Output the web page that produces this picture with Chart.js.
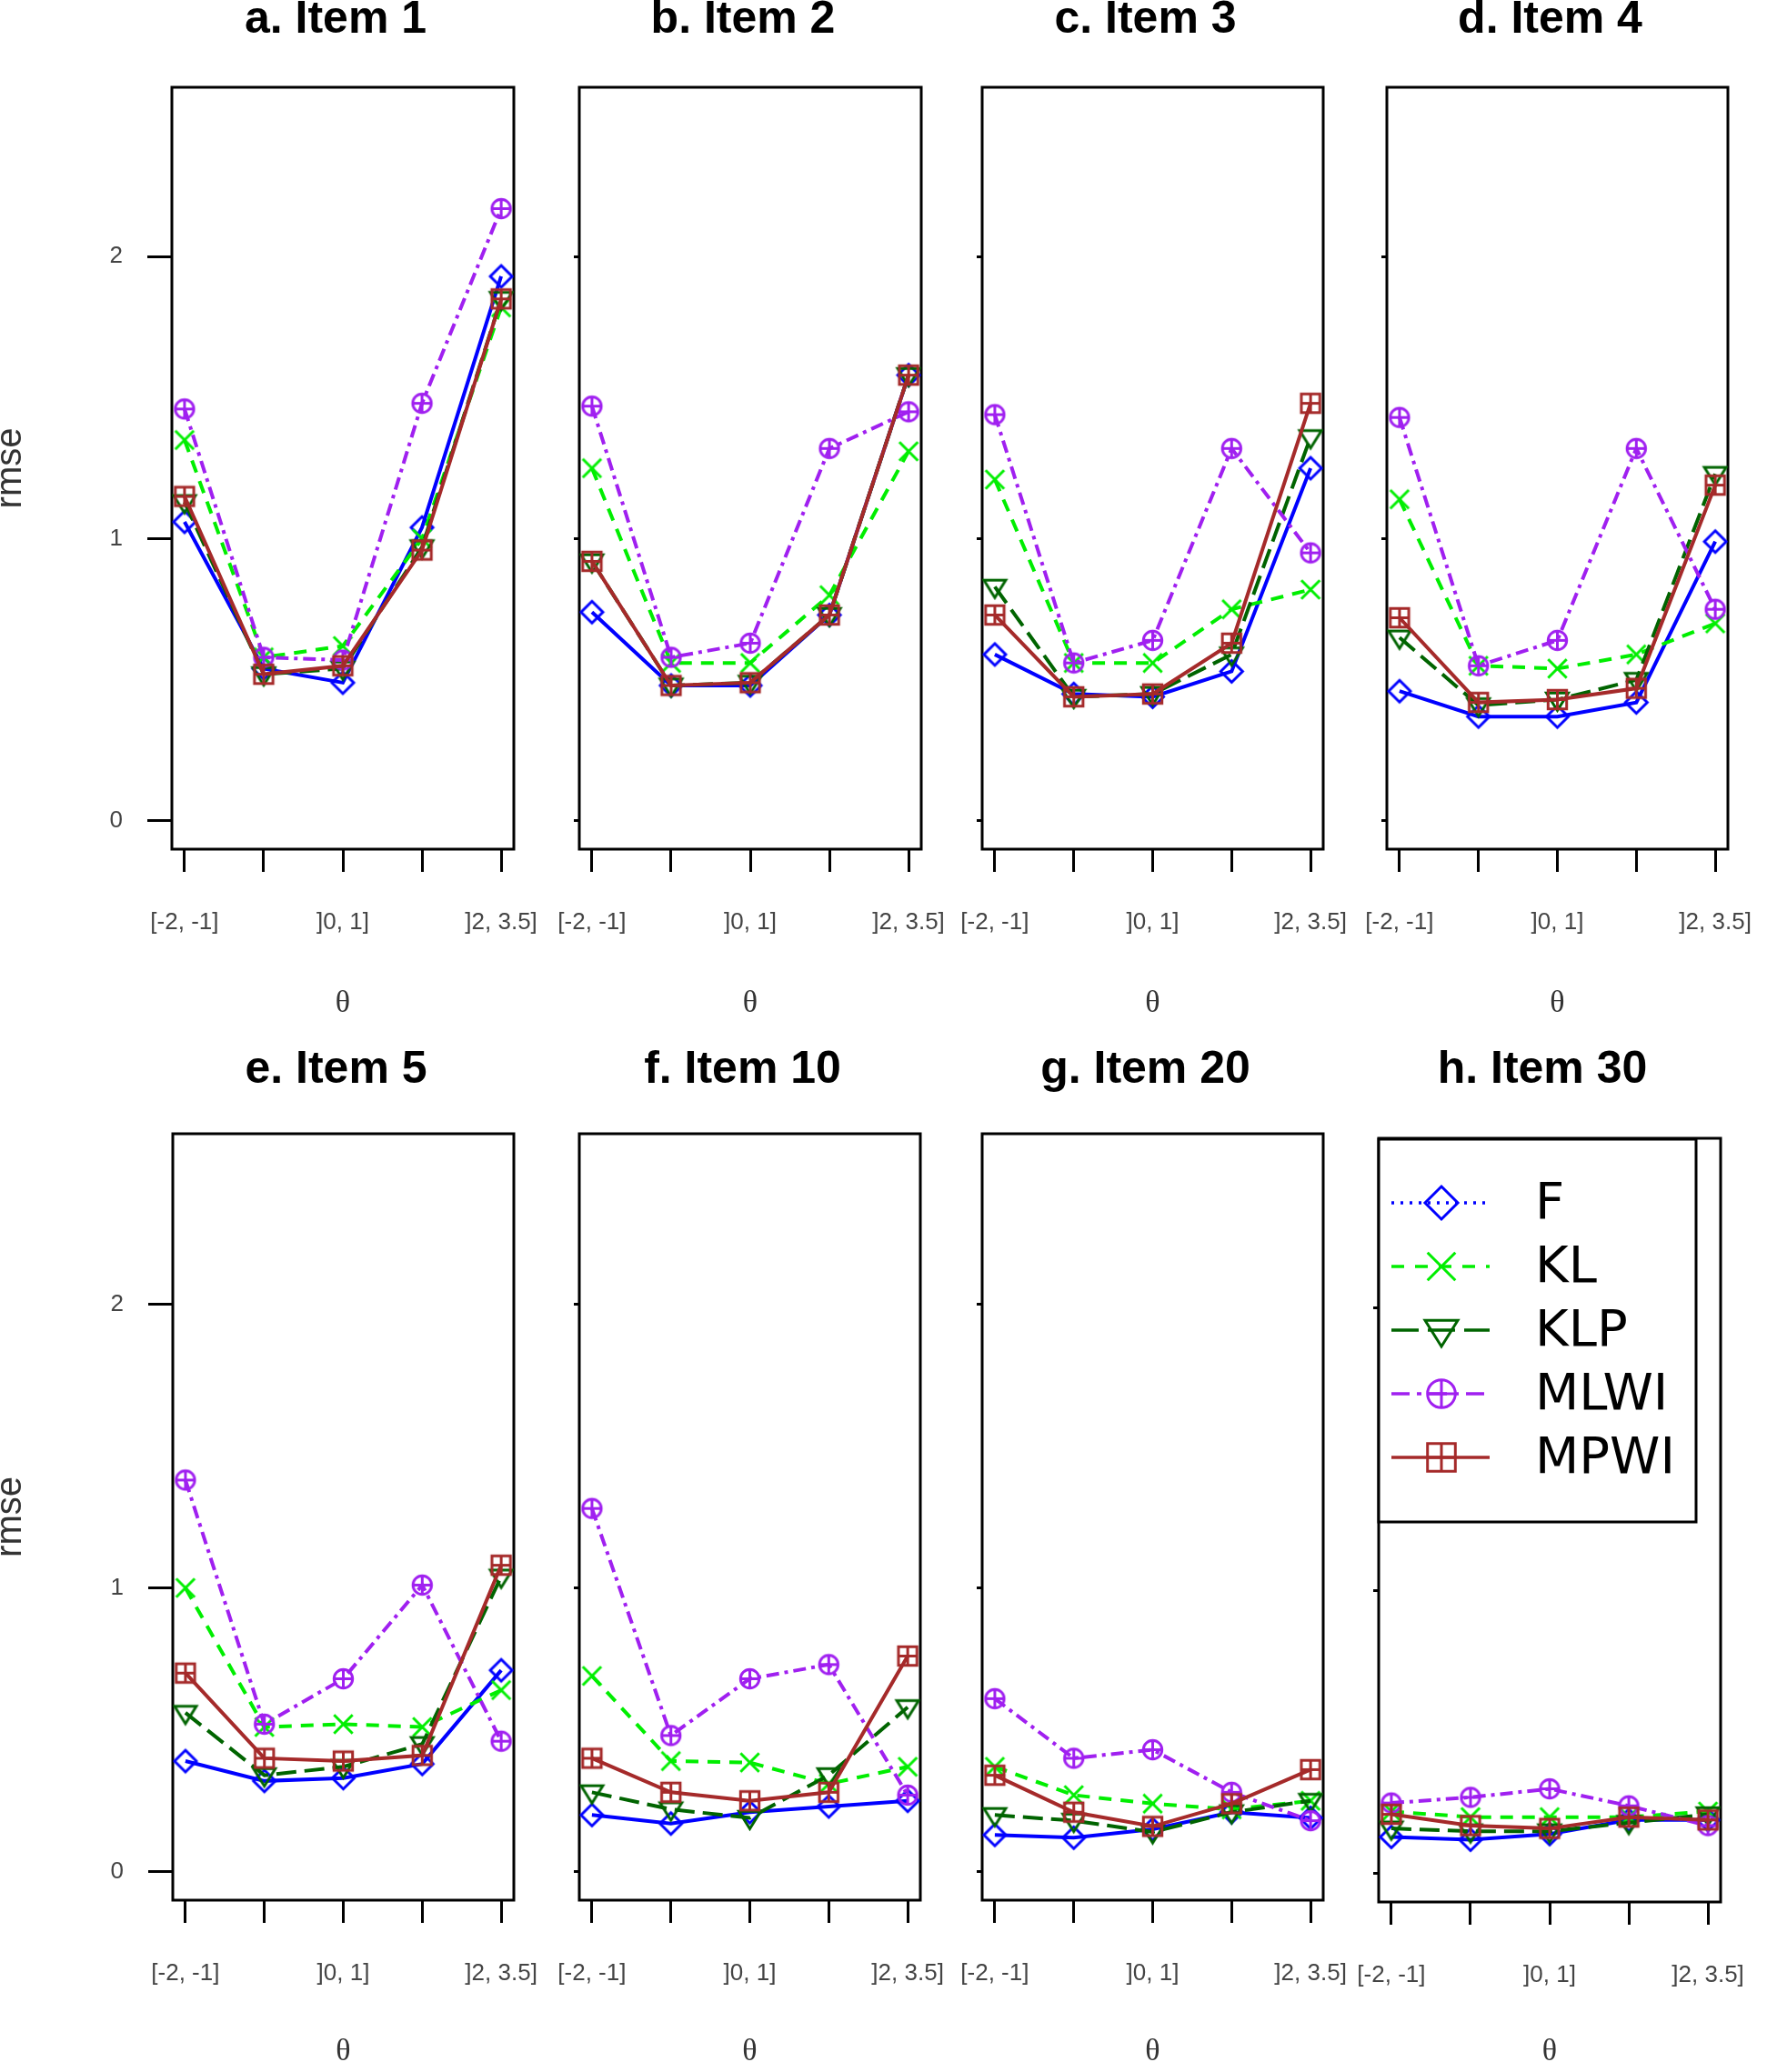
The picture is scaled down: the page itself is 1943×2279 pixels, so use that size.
<!DOCTYPE html>
<html>
<head>
<meta charset="utf-8">
<script src="https://cdn.jsdelivr.net/npm/chart.js@4/dist/chart.umd.min.js"></script>
<style>
  html, body { margin: 0; padding: 0; background: #fff; overflow: hidden; }
  body { width: 1943px; height: 2279px; position: relative; }
  canvas { position: absolute; }
</style>
</head>
<body>
<script>
// theta bins on the x axis (only every other one is labelled in the figure)
const thetaBins = ['[-2, -1]', ']-1, 0]', ']0, 1]', ']1, 2]', ']2, 3.5]'];
const panelTitles = ['a. Item 1', 'b. Item 2', 'c. Item 3', 'd. Item 4',
                     'e. Item 5', 'f. Item 10', 'g. Item 20', 'h. Item 30'];
const methods = ['F', 'KL', 'KLP', 'MLWI', 'MPWI'];
const yTicks = [0, 1, 2];

// rmse per panel (rows: items 1,2,3,4,5,10,20,30), one value per theta bin
const rmseF = [
  [1.06, 0.54, 0.49, 1.04, 1.93],
  [0.74, 0.48, 0.48, 0.73, 1.58],
  [0.59, 0.45, 0.44, 0.53, 1.25],
  [0.46, 0.37, 0.37, 0.42, 0.99],
  [0.39, 0.32, 0.33, 0.38, 0.71],
  [0.20, 0.17, 0.21, 0.23, 0.25],
  [0.13, 0.12, 0.15, 0.21, 0.19],
  [0.13, 0.12, 0.14, 0.19, 0.19]
];
const rmseKL = [
  [1.35, 0.58, 0.62, 1.00, 1.82],
  [1.25, 0.56, 0.56, 0.80, 1.31],
  [1.21, 0.56, 0.56, 0.75, 0.82],
  [1.14, 0.55, 0.54, 0.59, 0.70],
  [1.00, 0.51, 0.52, 0.51, 0.64],
  [0.69, 0.39, 0.385, 0.31, 0.37],
  [0.37, 0.27, 0.24, 0.22, 0.25],
  [0.22, 0.20, 0.20, 0.20, 0.22]
];
const rmseKLP = [
  [1.13, 0.52, 0.54, 0.97, 1.85],
  [0.92, 0.48, 0.49, 0.73, 1.58],
  [0.83, 0.44, 0.45, 0.59, 1.36],
  [0.65, 0.41, 0.43, 0.50, 1.23],
  [0.56, 0.34, 0.37, 0.45, 1.04],
  [0.28, 0.22, 0.19, 0.34, 0.58],
  [0.20, 0.18, 0.14, 0.21, 0.25],
  [0.16, 0.15, 0.15, 0.18, 0.21]
];
const rmseMLWI = [
  [1.46, 0.58, 0.57, 1.48, 2.17],
  [1.47, 0.58, 0.63, 1.32, 1.45],
  [1.44, 0.56, 0.64, 1.32, 0.95],
  [1.43, 0.55, 0.64, 1.32, 0.75],
  [1.38, 0.52, 0.68, 1.01, 0.46],
  [1.28, 0.48, 0.68, 0.73, 0.27],
  [0.61, 0.40, 0.43, 0.28, 0.18],
  [0.25, 0.27, 0.30, 0.24, 0.17]
];
const rmseMPWI = [
  [1.15, 0.52, 0.55, 0.96, 1.85],
  [0.92, 0.48, 0.49, 0.73, 1.58],
  [0.73, 0.44, 0.45, 0.63, 1.48],
  [0.72, 0.42, 0.43, 0.47, 1.19],
  [0.70, 0.40, 0.39, 0.41, 1.08],
  [0.40, 0.28, 0.25, 0.28, 0.76],
  [0.34, 0.21, 0.16, 0.24, 0.36],
  [0.21, 0.17, 0.16, 0.20, 0.19]
];
const series = { F: rmseF, KL: rmseKL, KLP: rmseKLP, MLWI: rmseMLWI, MPWI: rmseMPWI };

// page layout: plot box [left, top, right, bottom] of each panel
const boxes = [
  [189, 96, 565, 934], [637, 96, 1013, 934], [1080, 96, 1455, 934], [1525, 96, 1900, 934],
  [190, 1247, 565, 2090], [637, 1247, 1012, 2090], [1080, 1247, 1455, 2090], [1516, 1252, 1892, 2092]
];
const rowTop = [0, 1140];
const rowBottom = [1140, 2279];
const titleY = [22, 1177];
const thetaPad = [19, 5];

const styles = {
  F:    { color: '#0000ff', dash: [],            legendDash: [3, 7],         marker: 'diamond' },
  KL:   { color: '#00ee00', dash: [14, 10],      legendDash: [14, 12],       marker: 'x' },
  KLP:  { color: '#006400', dash: [22, 9],       legendDash: [30, 10],       marker: 'tri' },
  MLWI: { color: '#a020f0', dash: [14, 6, 4, 6], legendDash: [20, 8, 5, 8],  marker: 'circplus' },
  MPWI: { color: '#a52a2a', dash: [],            legendDash: [],             marker: 'sqplus' }
};

function drawMarker(ctx, kind, x, y, r, color, lw) {
  ctx.save();
  ctx.strokeStyle = color;
  ctx.lineWidth = lw;
  ctx.setLineDash([]);
  ctx.beginPath();
  if (kind === 'diamond') {
    ctx.moveTo(x, y - r); ctx.lineTo(x + r, y); ctx.lineTo(x, y + r); ctx.lineTo(x - r, y); ctx.closePath();
  } else if (kind === 'x') {
    const d = r * 0.85;
    ctx.moveTo(x - d, y - d); ctx.lineTo(x + d, y + d);
    ctx.moveTo(x + d, y - d); ctx.lineTo(x - d, y + d);
  } else if (kind === 'tri') {
    ctx.moveTo(x - r, y - r * 0.6); ctx.lineTo(x + r, y - r * 0.6); ctx.lineTo(x, y + r); ctx.closePath();
  } else if (kind === 'circplus') {
    const c = r * 0.85;
    ctx.arc(x, y, c, 0, Math.PI * 2);
    ctx.moveTo(x - c, y); ctx.lineTo(x + c, y);
    ctx.moveTo(x, y - c); ctx.lineTo(x, y + c);
  } else if (kind === 'sqplus') {
    const s = r * 0.85;
    ctx.rect(x - s, y - s, 2 * s, 2 * s);
    ctx.moveTo(x - s, y); ctx.lineTo(x + s, y);
    ctx.moveTo(x, y - s); ctx.lineTo(x, y + s);
  }
  ctx.stroke();
  ctx.restore();
}

function markerCanvas(kind, color, r, lw) {
  const c = document.createElement('canvas');
  const size = Math.ceil(2 * r + lw + 4);
  c.width = size; c.height = size;
  drawMarker(c.getContext('2d'), kind, size / 2, size / 2, r, color, lw);
  return c;
}

const pointImages = {};
methods.forEach(m => { pointImages[m] = markerCanvas(styles[m].marker, styles[m].color, 12, 3); });

const boxFrame = {
  id: 'boxFrame',
  beforeDatasetsDraw(chart) {
    const a = chart.chartArea, ctx = chart.ctx;
    ctx.save();
    ctx.strokeStyle = '#000';
    ctx.lineWidth = 3;
    ctx.strokeRect(a.left, a.top, a.right - a.left, a.bottom - a.top);
    ctx.restore();
  }
};

const legendBox = {
  id: 'legendBox',
  afterDraw(chart) {
    const a = chart.chartArea, ctx = chart.ctx;
    const left = a.left, top = a.top + 1, w = 349, h = 421;
    ctx.save();
    ctx.fillStyle = '#fff';
    ctx.fillRect(left, top, w, h);
    ctx.strokeStyle = '#000';
    ctx.lineWidth = 3;
    ctx.strokeRect(left, top, w, h);
    methods.forEach((m, k) => {
      const y = top + 70 + k * 70;
      ctx.strokeStyle = styles[m].color;
      ctx.lineWidth = 3.5;
      ctx.setLineDash(styles[m].legendDash);
      ctx.beginPath();
      ctx.moveTo(left + 14, y);
      ctx.lineTo(left + 122, y);
      ctx.stroke();
      ctx.setLineDash([]);
      drawMarker(ctx, styles[m].marker, left + 69, y, 18, styles[m].color, 3);
      ctx.fillStyle = '#000';
      ctx.font = '56px "DejaVu Sans"';
      ctx.textBaseline = 'middle';
      ctx.textAlign = 'left';
      ctx.fillText(m, left + 172, y + 2);
    });
    ctx.restore();
  }
};

boxes.forEach((box, p) => {
  const row = p < 4 ? 0 : 1;
  const first = p % 4 === 0;
  const [bl, bt, br, bb] = box;
  const L = first ? bl : 130;
  const cLeft = bl - L;
  // the title is centred on the whole canvas, so size the canvas around it
  const titleCx = (bl + br) / 2 - 8;
  const cWidth = Math.round(2 * (titleCx - cLeft));
  const cTop = rowTop[row];
  const cHeight = rowBottom[row] - cTop;
  const T = bt - cTop;
  const B = rowBottom[row] - bb;
  const R = cLeft + cWidth - br;
  const padTop = titleY[row] - cTop - 22.5;
  const padBottom = T - 45 - padTop;

  const canvas = document.createElement('canvas');
  canvas.width = cWidth;
  canvas.height = cHeight;
  canvas.style.left = cLeft + 'px';
  canvas.style.top = cTop + 'px';
  canvas.style.width = cWidth + 'px';
  canvas.style.height = cHeight + 'px';
  document.body.appendChild(canvas);

  const datasets = methods.map((m, k) => ({
    label: m,
    data: series[m][p].map((v, i) => ({ x: i + 1, y: v })),
    borderColor: styles[m].color,
    backgroundColor: styles[m].color,
    borderWidth: 4,
    borderDash: styles[m].dash,
    pointStyle: pointImages[m],
    pointRadius: 12,
    pointHoverRadius: 12,
    tension: 0,
    fill: false,
    order: 5 - k
  }));

  new Chart(canvas, {
    type: 'line',
    data: { datasets },
    options: {
      responsive: false,
      animation: false,
      devicePixelRatio: 1,
      events: [],
      layout: { padding: 0 },
      plugins: {
        legend: { display: false },
        tooltip: { enabled: false },
        title: {
          display: true,
          text: panelTitles[p],
          color: '#000',
          font: { family: '"Liberation Sans", Arial, sans-serif', size: 50, weight: 'bold', lineHeight: 0.9 },
          padding: { top: padTop, bottom: padBottom }
        }
      },
      scales: {
        x: {
          type: 'linear',
          min: 0.84,
          max: 5.16,
          afterBuildTicks: s => { s.ticks = thetaBins.map((_, i) => ({ value: i + 1 })); },
          afterFit: s => { s.height = B; },
          border: { display: false },
          grid: { drawOnChartArea: false, drawTicks: true, tickLength: 25, color: '#000', lineWidth: 3 },
          ticks: {
            autoSkip: false,
            maxRotation: 0,
            padding: 40,
            color: '#444',
            font: { family: '"Liberation Sans", Arial, sans-serif', size: 26 },
            callback: v => ((v - 1) % 2 === 0 ? thetaBins[v - 1] : '')
          },
          title: {
            display: true,
            text: 'θ',
            color: '#333',
            font: { family: '"Liberation Serif", serif', size: 34, lineHeight: 1 },
            padding: { top: 0, bottom: thetaPad[row] }
          }
        },
        y: {
          min: -0.1,
          max: 2.6,
          afterBuildTicks: s => { s.ticks = yTicks.map(v => ({ value: v })); },
          afterFit: s => { s.width = L; },
          border: { display: false },
          grid: { drawOnChartArea: false, drawTicks: true, tickLength: first ? 27 : 6, color: '#000', lineWidth: 3 },
          ticks: {
            display: first,
            padding: 27,
            color: '#444',
            font: { family: '"Liberation Sans", Arial, sans-serif', size: 26 }
          },
          title: {
            display: first,
            text: 'rmse',
            color: '#333',
            font: { family: '"Liberation Sans", Arial, sans-serif', size: 40, lineHeight: 1 },
            padding: { top: -8, bottom: 0 }
          }
        },
        // empty right-hand axis that only reserves the right margin
        yRight: {
          position: 'right',
          min: -0.1,
          max: 2.6,
          afterBuildTicks: s => { s.ticks = []; },
          afterFit: s => { s.width = R; },
          border: { display: false },
          grid: { display: false },
          ticks: { display: false }
        }
      }
    },
    plugins: p === 7 ? [boxFrame, legendBox] : [boxFrame]
  });
});
</script>
</body>
</html>
